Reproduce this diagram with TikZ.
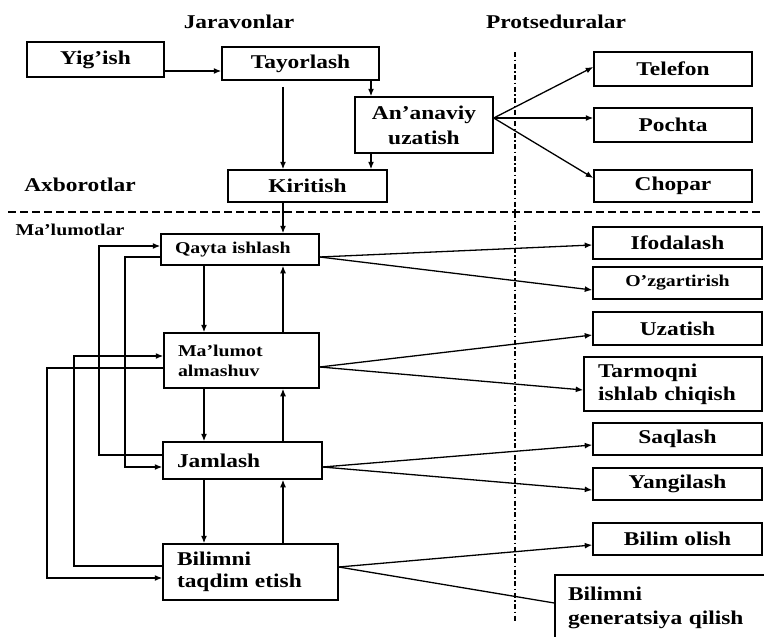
\documentclass[tikz,border=0pt]{standalone}
\usepackage{fontspec}
\setmainfont{Liberation Serif}[FakeStretch=1.2]
\usetikzlibrary{arrows.meta}
\newcommand\fbig{\bfseries\fontsize{19.5}{23}\selectfont}
\newcommand\fsml{\bfseries\fontsize{16.5}{20}\selectfont}
\begin{document}
\begin{tikzpicture}[x=1pt,y=-1pt,
  box/.style={draw, line width=1.5pt, font=\fbig, inner sep=0pt, align=center},
  lbox/.style={box, align=left, inner xsep=14pt},
  arr/.style={-{Latex[length=7.5pt,width=6pt]}, line width=1.3pt},
  ln/.style={line width=1.3pt},
  lab/.style={font=\fbig, inner sep=0pt},
  hdash/.style={line width=1.3pt, dash pattern=on 8pt off 4pt},
  vdash/.style={line width=1.3pt, dash pattern=on 5pt off 2.5pt on 1.5pt off 2.5pt}]
\clip (0,0) rectangle (764,637);
\fill[white] (0,0) rectangle (764,637);
% labels
\node[lab] (jar) at (239,22) {Jaravonlar};
\node[lab] (prot) at (556,22) {Protseduralar};
\node[lab] (axb) at (80,185) {Axborotlar};
\node[lab, font=\fsml] (mal) at (70,230) {Ma’lumotlar};
% separators
\coordinate (h1) at (8,212);
\coordinate (h2) at (764,212);
\coordinate (v1) at (515,52);
\coordinate (v2) at (515,622);
\draw[hdash] (h1) -- (h2);
\draw[vdash] (v1) -- (v2);
% top boxes
\node[box, minimum width=137pt, minimum height=35pt] (yigish) at (95.5,59.5) {Yig’ish};
\node[box, minimum width=157pt, minimum height=33pt] (tayor) at (300.5,63.5) {Tayorlash};
\node[box, minimum width=138pt, minimum height=56pt, font=\bfseries\fontsize{19.5}{25}\selectfont] (anan) at (424,125) {An’anaviy\\uzatish};
\node[box, minimum width=159pt, minimum height=32pt] (kirit) at (307.5,186) {Kiritish};
\node[box, minimum width=158pt, minimum height=34pt] (telef) at (673,69) {Telefon};
\node[box, minimum width=158pt, minimum height=34pt] (pocht) at (673,125) {Pochta};
\node[box, minimum width=158pt, minimum height=32pt] (chop) at (673,186) {Chopar};
% left column
\node[lbox, font=\fsml, text width=130pt, minimum height=31pt] (qayta) at (240,249.5) {Qayta ishlash};
\node[lbox, font=\fsml, text width=127pt, minimum height=55pt] (malum) at (241.5,360.5) {Ma’lumot\\almashuv};
\node[lbox, text width=131pt, minimum height=37pt] (jaml) at (242.5,460.5) {Jamlash};
\node[lbox, font=\bfseries\fontsize{19.5}{22}\selectfont, text width=147pt, minimum height=56pt] (bilim) at (250.5,572) {Bilimni\\taqdim etish};
% right column
\node[box, minimum width=169pt, minimum height=32pt] (ifod) at (677.5,243) {Ifodalash};
\node[box, font=\fsml, minimum width=169pt, minimum height=32pt] (ozg) at (677.5,283) {O’zgartirish};
\node[box, minimum width=169pt, minimum height=33pt] (uzat) at (677.5,328.5) {Uzatish};
\node[lbox, font=\bfseries\fontsize{19.5}{23}\selectfont, text width=150pt, minimum height=54pt] (tarm) at (673,384) {Tarmoqni\\ishlab chiqish};
\node[box, minimum width=169pt, minimum height=32pt] (saql) at (677.5,439) {Saqlash};
\node[box, minimum width=169pt, minimum height=32pt] (yang) at (677.5,484) {Yangilash};
\node[box, minimum width=169pt, minimum height=32pt] (bolish) at (677.5,539) {Bilim olish};
\node[lbox, inner xsep=13pt, font=\bfseries\fontsize{19.5}{24}\selectfont, text width=189pt, minimum height=65pt] (bgen) at (662.5,607.5) {Bilimni\\generatsiya qilish};
% top connectors
\draw[arr] (yigish.east |- 0,71) -- (tayor.west |- 0,71);
\draw[arr, shorten <=6pt] (tayor.south -| 283,0) -- (kirit.north -| 283,0);
\draw[arr] (tayor.south -| 371,0) -- (anan.north -| 371,0);
\draw[arr] (anan.south -| 371,0) -- (kirit.north -| 371,0);
\draw[arr] (anan.east |- 0,118) -- (telef.west |- 0,67);
\draw[arr] (anan.east |- 0,118) -- (pocht.west |- 0,118);
\draw[arr] (anan.east |- 0,118) -- (chop.west |- 0,178);
\draw[arr] (kirit.south -| 283,0) -- (qayta.north -| 283,0);
% vertical chain
\draw[arr] (qayta.south -| 204,0) -- (malum.north -| 204,0);
\draw[arr] (malum.north -| 283,0) -- (qayta.south -| 283,0);
\draw[arr] (malum.south -| 204,0) -- (jaml.north -| 204,0);
\draw[arr] (jaml.north -| 283,0) -- (malum.south -| 283,0);
\draw[arr] (jaml.south -| 204,0) -- (bilim.north -| 204,0);
\draw[arr] (bilim.north -| 283,0) -- (jaml.south -| 283,0);
% left loops
\draw[arr] (jaml.west |- 0,455) -| (99,246) -- (qayta.west |- 0,246);
\draw[arr] (qayta.west |- 0,257) -| (125,467) -- (jaml.west |- 0,467);
\draw[arr] (bilim.west |- 0,566) -| (74,356) -- (malum.west |- 0,356);
\draw[arr] (malum.west |- 0,368) -| (47,578) -- (bilim.west |- 0,578);
% right fans
\draw[arr] (qayta.east |- 0,257) -- (ifod.west |- 0,245);
\draw[arr] (qayta.east |- 0,257) -- (ozg.west |- 0,290);
\draw[arr] (malum.east |- 0,367) -- (uzat.west |- 0,335);
\draw[arr] (malum.east |- 0,367) -- (tarm.west |- 0,390);
\draw[arr] (jaml.east |- 0,467) -- (saql.west |- 0,445);
\draw[arr] (jaml.east |- 0,467) -- (yang.west |- 0,490);
\draw[arr] (bilim.east |- 0,567) -- (bolish.west |- 0,545);
\draw[ln] (bilim.east |- 0,567) -- (bgen.west |- 0,603);
\end{tikzpicture}
\end{document}
